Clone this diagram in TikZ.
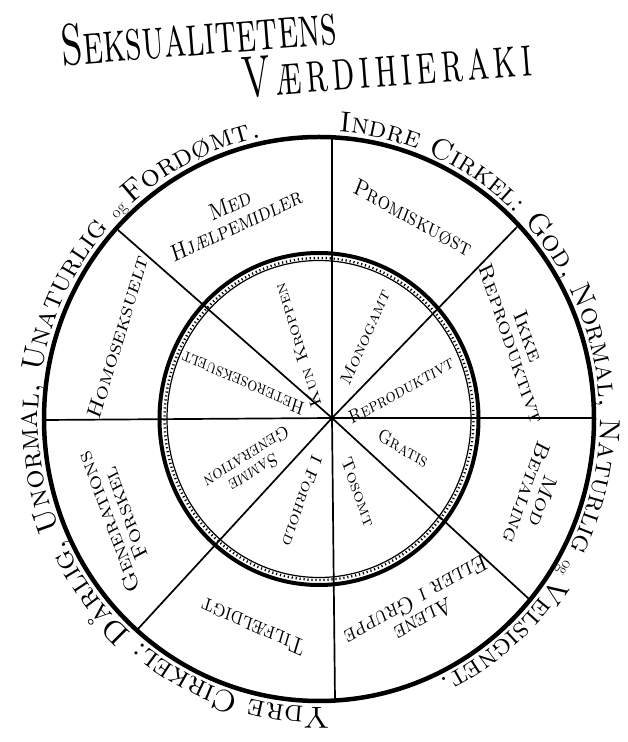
\documentclass[tikz,border=0pt]{standalone}
\usepackage{graphicx}
\usetikzlibrary{decorations.text}
\newcommand\ringfontA{\fontsize{29}{31}\selectfont\scshape}
\newcommand\ringfontB{\fontsize{30.5}{32}\selectfont\scshape}
\newcommand\ogfont{\fontsize{17}{18}\selectfont\upshape}
\newcommand\lsp{\kern4.5pt}
\begin{document}
\begin{tikzpicture}[x=1pt,y=1pt,
  outerlbl/.style={font=\fontsize{20}{18}\selectfont\scshape, align=center, inner sep=0pt, yscale=1.2},
  innerlbl/.style={font=\fontsize{16}{15}\selectfont\scshape, align=center, inner sep=0pt, yscale=1.2},
  titlelbl/.style={anchor=base west, inner sep=0pt, rotate=4.5, yscale=1.62, text height=0.68em, text depth=0pt, font=\fontsize{36}{38}\selectfont\scshape},
  spoke/.style={line width=1.7pt},
  ringline/.style={line width=4.5pt},
  ringtext/.style={decorate, decoration={text along path, text={#1}}}]
\useasboundingbox (0,0) rectangle (627,742);
% centres
\coordinate (C) at (319,323);
\coordinate (S) at (332,324);
% outer circle
\draw[ringline] (C) ellipse [x radius=275pt, y radius=282pt];
% inner circle (thick line, ladder band, thin line)
\draw[line width=4pt] (C) ellipse [x radius=159.5pt, y radius=166pt];
\draw[line width=2.4pt, dash pattern=on 1.2pt off 2.8pt] (C) ellipse [x radius=154.5pt, y radius=161pt];
\draw[line width=1.2pt] (C) ellipse [x radius=152pt, y radius=158.5pt];
% spoke ends
\coordinate (pT) at (332,605);
\coordinate (pB) at (335,42);
\coordinate (pL) at (45,322);
\coordinate (pR) at (595,324);
\coordinate (pUR) at (517,515);
\coordinate (pUL) at (118,512);
\coordinate (pLR) at (529,143);
\coordinate (pLL) at (137,112);
\foreach \p in {pT,pB,pL,pR,pUR,pUL,pLR,pLL} \draw[spoke] (S) -- (\p);
% title
\node[titlelbl] (t1) at (62,676) {Seksualitetens};
\node[titlelbl] (t2) at (243,644) {V\lsp æ\lsp r\lsp d\lsp i\lsp h\lsp i\lsp e\lsp r\lsp a\lsp k\lsp i};
% ring texts
\path[ringtext={|\ringfontA|Indre Cirkel: God, Normal, Naturlig |\ogfont|og |\ringfontA|Velsignet.}]
  (C) ++(86:281 and 288) arc[start angle=86, end angle=-85, x radius=281, y radius=288];
\path[ringtext={|\ringfontB|Ydre Cirkel: Dårlig, Unormal, Unaturlig |\ogfont|og |\ringfontB|Fordømt.}]
  (C) ++(272:281 and 288) arc[start angle=272, end angle=85, x radius=281, y radius=288];
% inner labels
\node[innerlbl, rotate=62] (monogamt) at (365,405) {Monogamt};
\node[innerlbl, rotate=110] (kun) at (298,397) {Kun Kroppen};
\node[innerlbl, rotate=160] (hetero) at (243,359) {Heteroseksuelt};
\node[innerlbl, rotate=208] (samme) at (250,277) {Samme\\Generation};
\node[innerlbl, rotate=248] (forhold) at (302,241) {I Forhold};
\node[innerlbl, rotate=293] (tosomt) at (358,250) {Tosomt};
\node[innerlbl, rotate=-26] (gratis) at (403,294) {Gratis};
\node[innerlbl, rotate=25] (repro) at (401,352) {Reproduktivt};
% outer labels
\node[outerlbl, rotate=-25] (promis) at (413,524) {Promiskuøst};
\node[outerlbl, rotate=21] (hjaelp) at (233,527) {Med\\Hjælpemidler};
\node[outerlbl, rotate=70] (homo) at (118,405) {Homoseksuelt};
\node[outerlbl, rotate=114] (gen) at (117,224) {Generations\\Forskel};
\node[outerlbl, rotate=160] (tilf) at (253,115) {Tilfældigt};
\node[outerlbl, rotate=205] (alene) at (420,132) {Alene\\Eller i Gruppe};
\node[outerlbl, rotate=-113] (betal) at (535,245) {Mod\\Betaling};
\node[outerlbl, rotate=-68] (ikke) at (520,402) {Ikke\\Reproduktivt};
\end{tikzpicture}
\end{document}
